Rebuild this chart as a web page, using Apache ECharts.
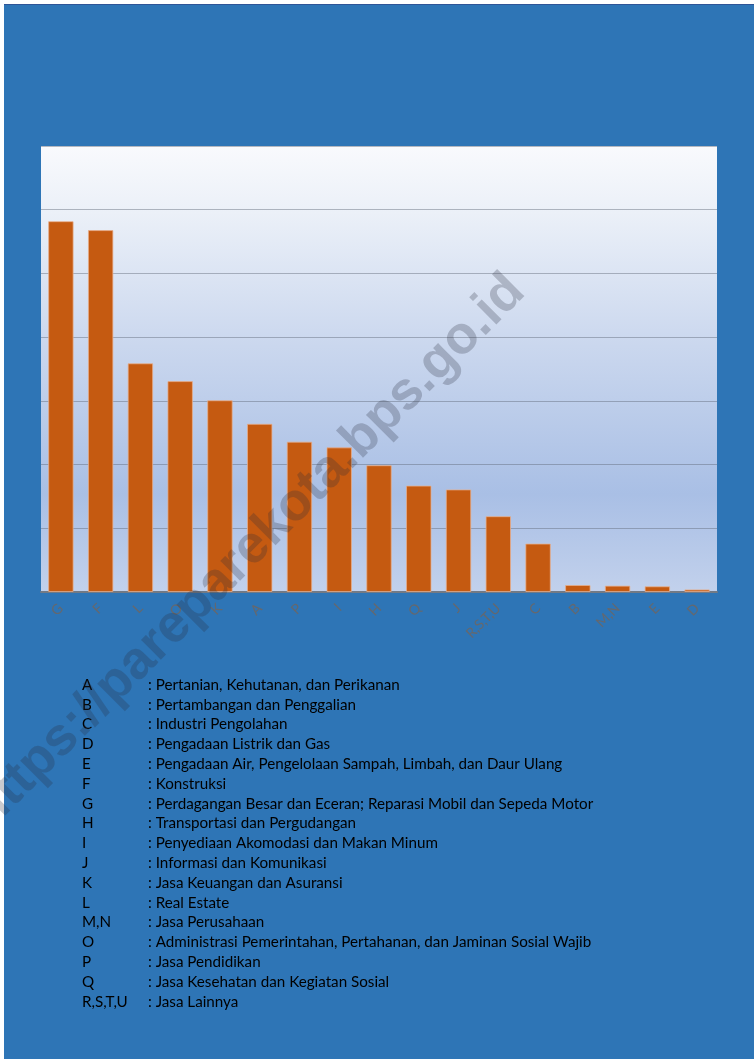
<!DOCTYPE html>
<html>
<head>
<meta charset="utf-8">
<script src="https://cdn.jsdelivr.net/npm/echarts@6/dist/echarts.min.js"></script>
<style>
html,body{margin:0;padding:0;background:#fff;}
#chart{width:754px;height:1059px;}
</style>
</head>
<body>
<div id="chart"></div>
<script>
// Categories (sorted as shown) and values (read in gridline units)
const categories = ['G','F','L','O','K','A','P','I','H','Q','J','R,S,T,U','C','B','M,N','E','D'];
const values = [5.82, 5.68, 3.59, 3.31, 3.01, 2.64, 2.36, 2.27, 1.99, 1.67, 1.61, 1.19, 0.76, 0.11, 0.10, 0.09, 0.04];

// Legend key
const legendCodes = ['A','B','C','D','E','F','G','H','I','J','K','L','M,N','O','P','Q','R,S,T,U'];
const legendNames = [
  'Pertanian, Kehutanan, dan Perikanan',
  'Pertambangan dan Penggalian',
  'Industri Pengolahan',
  'Pengadaan Listrik dan Gas',
  'Pengadaan Air, Pengelolaan Sampah, Limbah, dan Daur Ulang',
  'Konstruksi',
  'Perdagangan Besar dan Eceran; Reparasi Mobil dan Sepeda Motor',
  'Transportasi dan Pergudangan',
  'Penyediaan Akomodasi dan Makan Minum',
  'Informasi dan Komunikasi',
  'Jasa Keuangan dan Asuransi',
  'Real Estate',
  'Jasa Perusahaan',
  'Administrasi Pemerintahan, Pertahanan, dan Jaminan Sosial Wajib',
  'Jasa Pendidikan',
  'Jasa Kesehatan dan Kegiatan Sosial',
  'Jasa Lainnya'
];
const watermark = 'https://pareparekota.bps.go.id';

const chart = echarts.init(document.getElementById('chart'), null, {renderer:'canvas'});

const legendFont = '15.2px Lato, "Open Sans", sans-serif';
const graphics = [
  {type:'rect', left:0, top:0, shape:{width:4, height:1059}, style:{fill:'#ffffff'}, z:1},
  {type:'rect', left:0, top:0, shape:{width:754, height:4}, style:{fill:'#ffffff'}, z:1},
  {type:'rect', left:4, top:4, shape:{width:750, height:1}, style:{fill:'#2F5597'}, z:1}
];
legendCodes.forEach((c, i) => {
  const y = 685 + i * 19.8;
  graphics.push({type:'text', x:82, y:y, style:{text:c, font:legendFont, fill:'#000', textVerticalAlign:'middle'}, z:5});
  graphics.push({type:'text', x:148, y:y, style:{text:': ' + legendNames[i], font:legendFont, fill:'#000', textVerticalAlign:'middle'}, z:5});
});
graphics.push({
  type:'text', x:248, y:552, rotation:Math.PI/4, z:100,
  style:{text:watermark, font:'bold 53px "Liberation Sans", Arial, sans-serif', fill:'rgba(40,45,60,0.25)', textAlign:'center', textVerticalAlign:'middle'}
});

chart.setOption({
  backgroundColor:'#2E75B6',
  animation:false,
  grid:{
    left:41, right:37, top:146, bottom:467,
    show:true, borderWidth:0,
    backgroundColor:{
      type:'linear', x:0, y:0, x2:0, y2:1,
      colorStops:[
        {offset:0, color:'#F9FAFD'},
        {offset:0.15, color:'#EBF0F8'},
        {offset:0.45, color:'#CAD7EE'},
        {offset:0.78, color:'#A9BFE5'},
        {offset:1, color:'#C2D1EC'}
      ]
    }
  },
  xAxis:{
    type:'category',
    data:categories,
    axisTick:{show:false},
    axisLine:{lineStyle:{color:'#737A85', width:2}},
    axisLabel:{rotate:45, color:'#65686E', fontSize:14, margin:14, fontFamily:'Lato, "Open Sans", sans-serif', interval:0}
  },
  yAxis:{
    type:'value', min:0, max:7, interval:1,
    axisLabel:{show:false},
    axisLine:{show:false},
    axisTick:{show:false},
    splitLine:{lineStyle:{color:'rgba(95,105,120,0.45)', width:1}}
  },
  series:[{
    type:'bar',
    data:values,
    barWidth:'64%',
    itemStyle:{color:'#C55A11', borderColor:'rgba(232,175,140,0.75)', borderWidth:1}
  }],
  graphic:graphics
});
</script>
</body>
</html>
